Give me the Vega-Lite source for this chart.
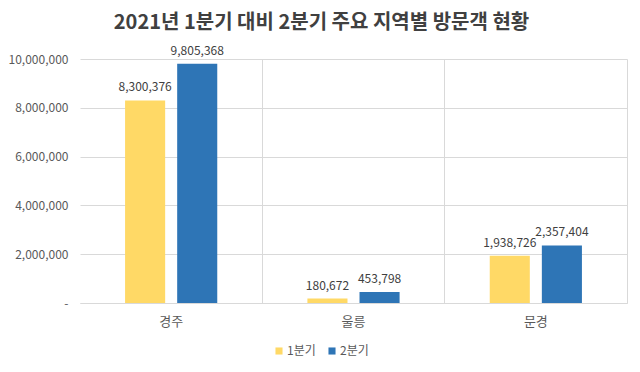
{
  "$schema": "https://vega.github.io/schema/vega-lite/v6.json",
  "autosize": {"type": "none"},
  "width": 547,
  "height": 244,
  "padding": {"left": 80, "top": 59, "right": 13, "bottom": 69},
  "background": "white",
  "config": {
    "font": "Noto Sans CJK KR",
    "view": {"stroke": null},
    "axis": {"labelFont": "Noto Sans CJK KR", "labelColor": "#595959", "labelFontSize": 12}
  },
  "title": {
    "text": "2021년 1분기 대비 2분기 주요 지역별 방문객 현황",
    "font": "Noto Sans CJK KR",
    "fontSize": 20,
    "fontWeight": "bold",
    "color": "#404040",
    "anchor": "middle",
    "dx": -32,
    "offset": 12
  },
  "data": {
    "values": [
      {"region": "경주", "quarter": "1분기", "visitors": 8300376},
      {"region": "경주", "quarter": "2분기", "visitors": 9805368},
      {"region": "울릉", "quarter": "1분기", "visitors": 180672},
      {"region": "울릉", "quarter": "2분기", "visitors": 453798},
      {"region": "문경", "quarter": "1분기", "visitors": 1938726},
      {"region": "문경", "quarter": "2분기", "visitors": 2357404}
    ]
  },
  "encoding": {
    "x": {
      "field": "region",
      "type": "nominal",
      "sort": ["경주", "울릉", "문경"],
      "scale": {"paddingInner": 0, "paddingOuter": 0},
      "axis": {
        "title": null,
        "labelAngle": 0,
        "labelPadding": 12,
        "labelFontSize": 13,
        "ticks": false,
        "domainColor": "#d9d9d9",
        "grid": true,
        "gridColor": "#d9d9d9",
        "bandPosition": 1
      }
    },
    "xOffset": {
      "field": "quarter",
      "type": "nominal",
      "scale": {"paddingInner": 0.2308, "paddingOuter": 0.865}
    },
    "y": {
      "field": "visitors",
      "type": "quantitative",
      "scale": {"domain": [0, 10000000]},
      "axis": {
        "title": null,
        "values": [0, 2000000, 4000000, 6000000, 8000000, 10000000],
        "labelExpr": "datum.value == 0 ? '-' : format(datum.value, ',')",
        "domain": false,
        "ticks": false,
        "labelPadding": 12,
        "gridColor": "#d9d9d9"
      }
    }
  },
  "layer": [
    {
      "mark": {"type": "bar"},
      "encoding": {
        "color": {
          "field": "quarter",
          "type": "nominal",
          "scale": {"domain": ["1분기", "2분기"], "range": ["#FFD966", "#2E75B6"]},
          "legend": {
            "title": null,
            "orient": "none",
            "direction": "horizontal",
            "legendX": 193,
            "legendY": 286,
            "symbolType": "square",
            "symbolSize": 50,
            "symbolStrokeWidth": 0,
            "labelFontSize": 12,
            "labelColor": "#595959",
            "labelFont": "Noto Sans CJK KR",
            "columnPadding": 10,
            "labelOffset": 2
          }
        }
      }
    },
    {
      "mark": {"type": "text", "baseline": "bottom", "dy": -6, "fontSize": 12, "color": "#404040"},
      "encoding": {
        "text": {"field": "visitors", "type": "quantitative", "format": ","}
      }
    }
  ]
}
